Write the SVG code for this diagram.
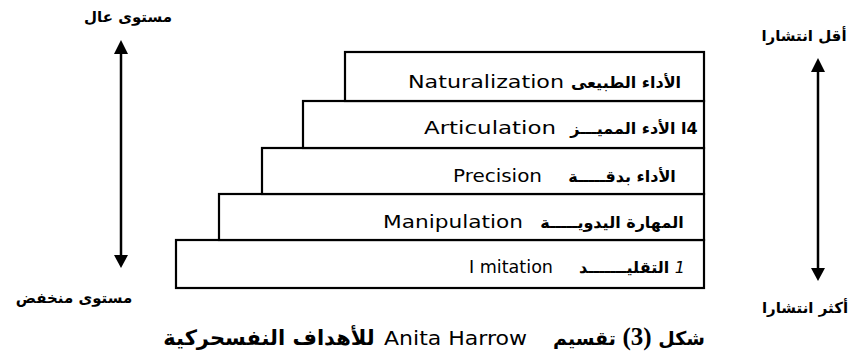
<svg xmlns="http://www.w3.org/2000/svg" width="859" height="362" viewBox="0 0 859 362">
<style>
.box{fill:#fff;stroke:#000;stroke-width:2.2}
.en{font-family:"DejaVu Sans",sans-serif;font-size:18px;fill:#000}
.ar{font-family:"DejaVu Sans",sans-serif;font-size:16px;font-weight:bold;fill:#000;direction:rtl;unicode-bidi:embed;text-anchor:middle}
.lbl{font-family:"DejaVu Sans",sans-serif;font-size:15px;font-weight:bold;fill:#000;direction:rtl;unicode-bidi:embed;text-anchor:middle}
.cap{font-family:"DejaVu Sans",sans-serif;font-size:21px;font-weight:bold;fill:#000;direction:rtl;unicode-bidi:embed;text-anchor:middle}
.shaft{stroke:#000;stroke-width:2.5;fill:none}
.head{fill:#000}
</style>
<rect width="859" height="362" fill="#fff"/>
<g id="imitation">
<rect class="box" x="176" y="240" width="528" height="48"/>
<text class="en" x="469" y="273" textLength="84" lengthAdjust="spacingAndGlyphs">I mitation</text>
<text class="ar" x="632" y="273"><tspan font-style="italic" font-weight="normal">1</tspan> التقليـــــــد</text>
</g>
<g id="manipulation">
<rect class="box" x="219" y="194" width="485" height="46"/>
<text class="en" x="383" y="228" textLength="140" lengthAdjust="spacingAndGlyphs">Manipulation</text>
<text class="ar" x="612" y="228">المهارة اليدويـــــة</text>
</g>
<g id="precision">
<rect class="box" x="262" y="148" width="442" height="46"/>
<text class="en" x="453" y="182" textLength="89" lengthAdjust="spacingAndGlyphs">Precision</text>
<text class="ar" x="622" y="182">الأداء بدقـــــة</text>
</g>
<g id="articulation">
<rect class="box" x="303" y="101" width="401" height="47"/>
<text class="en" x="424" y="134" textLength="132" lengthAdjust="spacingAndGlyphs">Articulation</text>
<text class="ar" x="634" y="134">4ا الأدء المميـــز</text>
</g>
<g id="naturalization">
<rect class="box" x="345" y="52" width="359" height="49"/>
<text class="en" x="408" y="88" textLength="156" lengthAdjust="spacingAndGlyphs">Naturalization</text>
<text class="ar" x="626" y="88">الأداء الطبيعى</text>
</g>
<g id="connectors">
<line class="shaft" x1="121" y1="50" x2="121" y2="258"/>
<polygon class="head" points="121,40 114,54 128,54"/>
<polygon class="head" points="121,268 114,255 128,255"/>
<line class="shaft" x1="818" y1="68" x2="818" y2="271"/>
<polygon class="head" points="818,58 811,72 825,72"/>
<polygon class="head" points="818,281 811,268 825,268"/>
</g>
<g id="labels">
<text class="lbl" x="128" y="22">مستوى عال</text>
<text class="lbl" x="74" y="303">مستوى منخفض</text>
<text class="lbl" x="804" y="41">أقل انتشارا</text>
<text class="lbl" x="805" y="313">أكثر انتشارا</text>
</g>
<g id="caption">
<text class="cap" x="629" y="345" style="font-size:19px">شكل <tspan style="font-family:'Liberation Serif',serif;font-size:25px">(3)</tspan> تقسيم</text>
<text x="384" y="345" font-family="DejaVu Sans,sans-serif" font-size="20" textLength="143" lengthAdjust="spacingAndGlyphs">Anita Harrow</text>
<text class="cap" x="269" y="345">للأهداف النفسحركية</text>
</g>
</svg>
